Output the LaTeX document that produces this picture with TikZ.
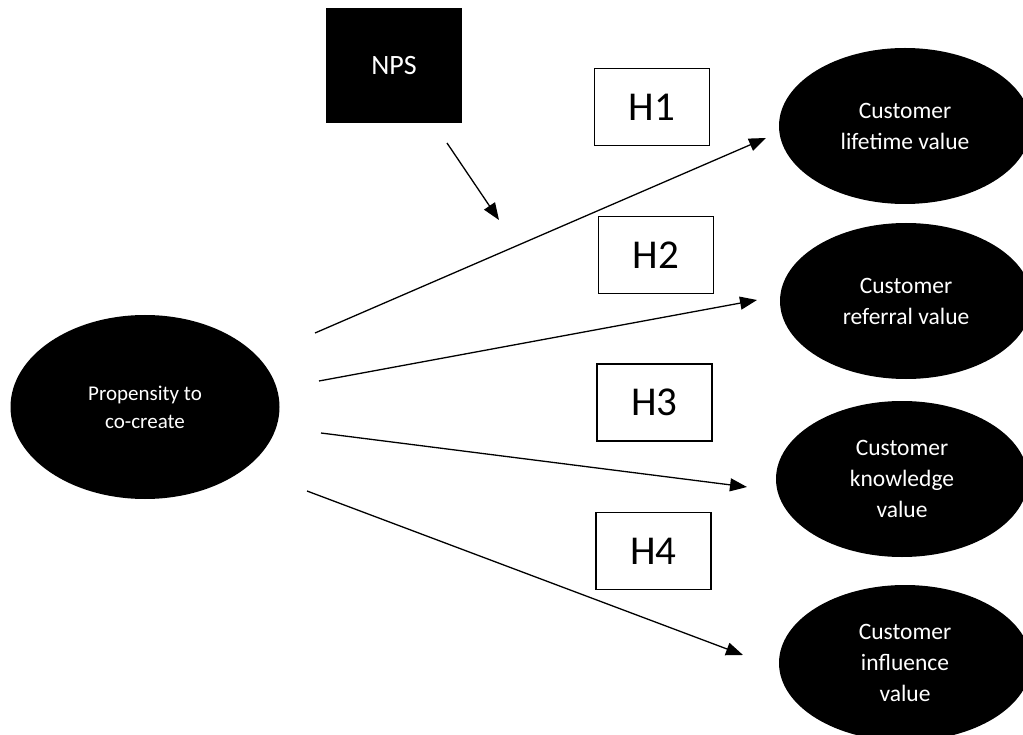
\documentclass[tikz,border=0pt]{standalone}
\usepackage{fontspec}
\setmainfont{Carlito}
\usetikzlibrary{shapes.geometric,arrows.meta}
\begin{document}
\begin{tikzpicture}[x=1pt,y=-1pt,
  bigoval/.style={ellipse,fill=black,text=white,inner sep=0pt,minimum width=252pt,minimum height=156pt,align=center,font=\fontsize{23.5}{31}\selectfont},
  hbox/.style={draw=black,line width=1.3pt,fill=white,inner sep=0pt,minimum width=115pt,minimum height=77pt,font=\fontsize{41}{48}\selectfont},
  link/.style={line width=1.3pt,-{Triangle[length=17pt,width=13pt]}}
]
\useasboundingbox (0,0) rectangle (1023,735);
\clip (0,0) rectangle (1023,735);
\fill[white] (0,0) rectangle (1023,735);

\node[ellipse,fill=black,text=white,inner sep=0pt,minimum width=269pt,minimum height=184pt,align=center,font=\fontsize{21}{28}\selectfont] (P) at (145,407) {Propensity to\\co-create};

\node[fill=black,text=white,inner sep=0pt,minimum width=136pt,minimum height=115pt,font=\fontsize{28}{34}\selectfont] (NPS) at (394,65.5) {NPS};

\node[bigoval] (CLV) at (905,126) {Customer\\lifetime value};
\node[bigoval] (CRV) at (906,301) {Customer\\referral value};
\node[bigoval] (CKV) at (902,479) {Customer\\knowledge\\value};
\node[bigoval] (CIV) at (905,663) {Customer\\influence\\value};

\node[hbox] (H1) at (652,107) {H1};
\node[hbox] (H2) at (656,255) {H2};
\node[hbox] (H3) at (654.5,402.5) {H3};
\node[hbox] (H4) at (653.5,551) {H4};

\coordinate (s0) at (447,143);
\coordinate (e0) at (499,220);
\coordinate (s1) at (315,333);
\coordinate (e1) at (766,138);
\coordinate (s2) at (319,381);
\coordinate (e2) at (757,300);
\coordinate (s3) at (321,433);
\coordinate (e3) at (747,487);
\coordinate (s4) at (307,491);
\coordinate (e4) at (743,655);

\draw[link] (s0) -- (e0);
\draw[link] (s1) -- (e1);
\draw[link] (s2) -- (e2);
\draw[link] (s3) -- (e3);
\draw[link] (s4) -- (e4);
\end{tikzpicture}
\end{document}
